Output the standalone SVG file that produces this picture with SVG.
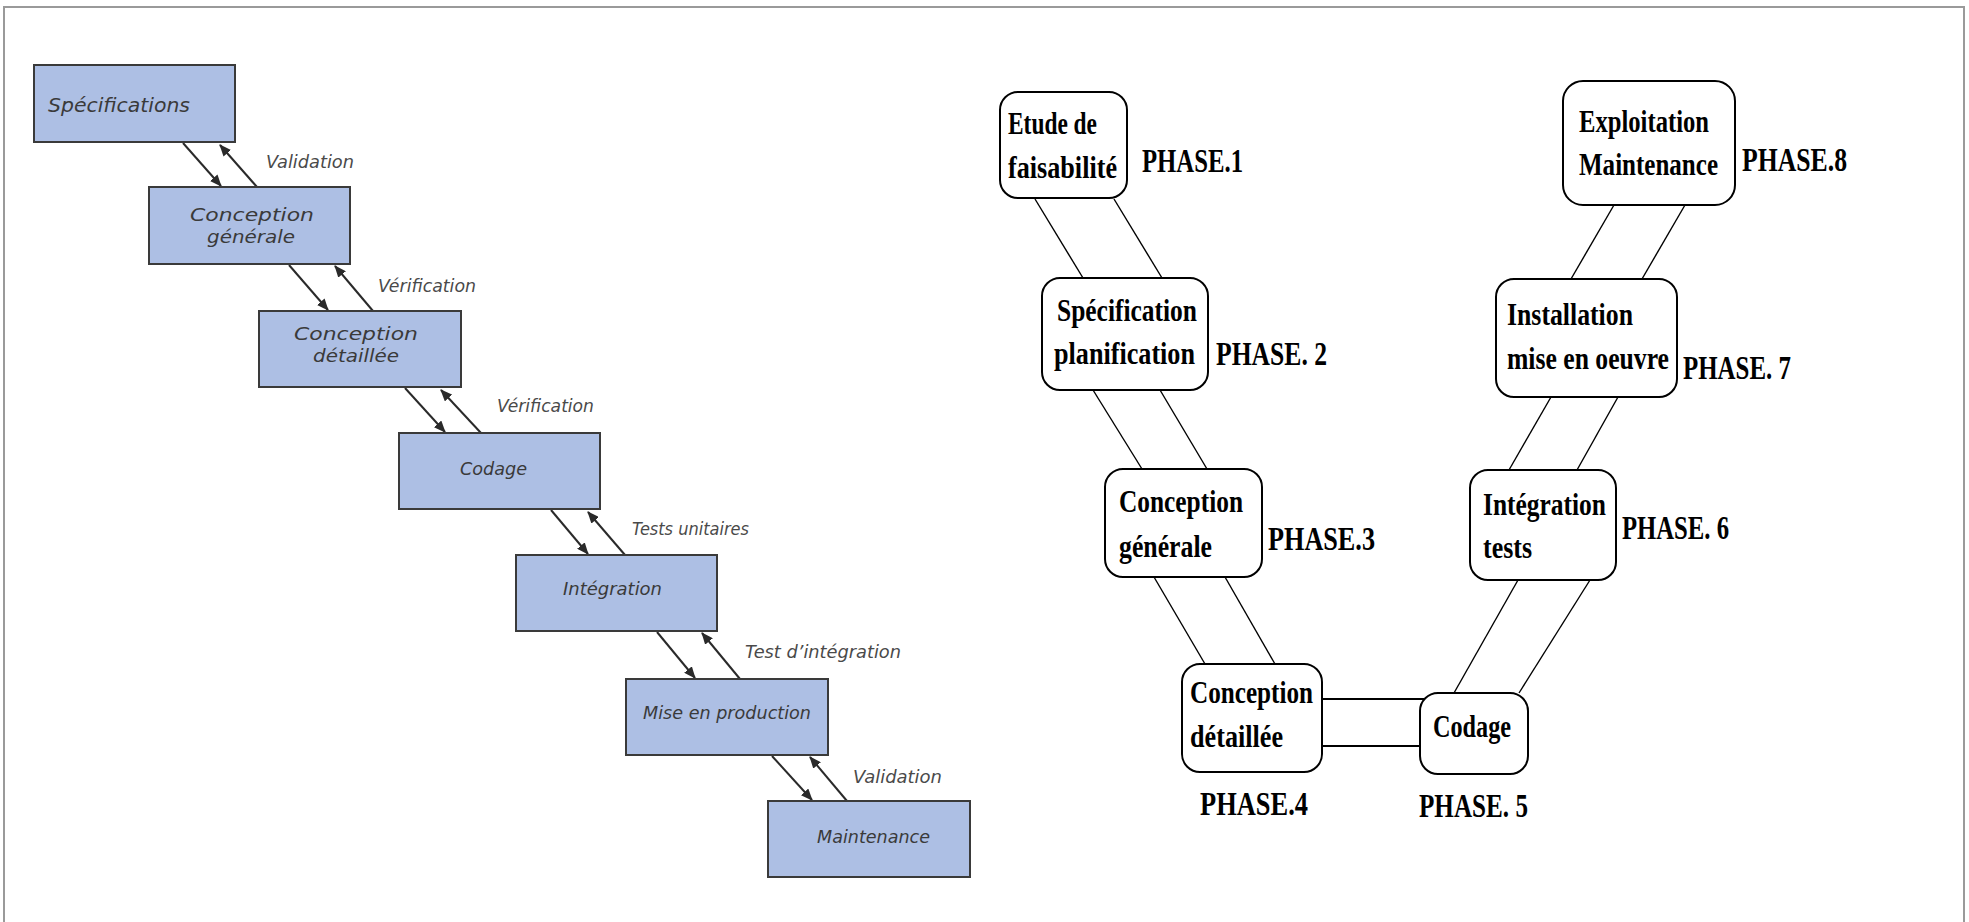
<svg xmlns="http://www.w3.org/2000/svg" width="1969" height="922" viewBox="0 0 1969 922">
<style>
.frame{fill:none;stroke:#9a9a9a;stroke-width:2}
.lbox{fill:#adbfe4;stroke:#3a3a3a;stroke-width:2}
.ltxt{font-family:"DejaVu Sans","Liberation Sans",sans-serif;font-style:italic;fill:#3a3a3a}
.lab{font-family:"DejaVu Sans","Liberation Sans",sans-serif;font-style:italic;fill:#4a4a4a;font-size:17px}
.arr{stroke:#2a2a2a;stroke-width:2;fill:none;marker-end:url(#ah)}
.rbox{fill:#fff;stroke:#000;stroke-width:2}
.rtxt{font-family:"Liberation Serif","DejaVu Serif",serif;font-weight:bold;font-size:31px;fill:#000}
.ph{font-family:"Liberation Serif","DejaVu Serif",serif;font-weight:bold;font-size:34px;fill:#000}
.cn{stroke:#000;stroke-width:1.4;fill:none}
.cn2{stroke:#000;stroke-width:2.2;fill:none}
</style>
<defs>
<marker id="ah" markerWidth="12" markerHeight="10" refX="11" refY="5" orient="auto" markerUnits="userSpaceOnUse">
<path d="M0,0 L12,5 L0,10 z" fill="#2a2a2a"/>
</marker>
</defs>
<rect width="1969" height="922" fill="#fff"/>
<rect class="frame" x="4" y="7" width="1960" height="940"/>

<g id="connectors">
<line class="arr" x1="183" y1="143" x2="221" y2="186"/>
<line class="arr" x1="257" y1="187" x2="220" y2="145"/>
<line class="arr" x1="289" y1="265" x2="328" y2="310"/>
<line class="arr" x1="373" y1="311" x2="335" y2="266"/>
<line class="arr" x1="405" y1="388" x2="445" y2="432"/>
<line class="arr" x1="481" y1="433" x2="441" y2="390"/>
<line class="arr" x1="551" y1="510" x2="588" y2="554"/>
<line class="arr" x1="625" y1="555" x2="588" y2="512"/>
<line class="arr" x1="657" y1="632" x2="695" y2="678"/>
<line class="arr" x1="740" y1="679" x2="702" y2="633"/>
<line class="arr" x1="772" y1="756" x2="812" y2="800"/>
<line class="arr" x1="847" y1="801" x2="810" y2="757"/>
<text class="lab" x="266" y="168" textLength="88" lengthAdjust="spacingAndGlyphs">Validation</text>
<text class="lab" x="378" y="292" textLength="98" lengthAdjust="spacingAndGlyphs">Vérification</text>
<text class="lab" x="497" y="412" textLength="97" lengthAdjust="spacingAndGlyphs">Vérification</text>
<text class="lab" x="632" y="535" textLength="117" lengthAdjust="spacingAndGlyphs">Tests unitaires</text>
<text class="lab" x="745" y="658" textLength="156" lengthAdjust="spacingAndGlyphs">Test d’intégration</text>
<text class="lab" x="853" y="783" textLength="89" lengthAdjust="spacingAndGlyphs">Validation</text>

<line class="cn" x1="1035" y1="199" x2="1083" y2="278"/>
<line class="cn" x1="1114" y1="199" x2="1162" y2="278"/>
<line class="cn" x1="1093" y1="390" x2="1142" y2="469"/>
<line class="cn" x1="1160" y1="390" x2="1207" y2="469"/>
<line class="cn" x1="1154" y1="577" x2="1205" y2="664"/>
<line class="cn" x1="1225" y1="577" x2="1275" y2="664"/>
<line class="cn2" x1="1322" y1="699" x2="1424" y2="699"/>
<line class="cn2" x1="1322" y1="746" x2="1421" y2="746"/>
<line class="cn" x1="1454" y1="693" x2="1518" y2="580"/>
<line class="cn" x1="1519" y1="693" x2="1590" y2="580"/>
<line class="cn" x1="1509" y1="470" x2="1551" y2="397"/>
<line class="cn" x1="1577" y1="470" x2="1618" y2="397"/>
<line class="cn" x1="1571" y1="279" x2="1614" y2="205"/>
<line class="cn" x1="1642" y1="279" x2="1685" y2="205"/>
</g>

<g id="L1"><rect class="lbox" x="34" y="65" width="201" height="77"/>
<text class="ltxt" x="48" y="112" font-size="20" textLength="142" lengthAdjust="spacingAndGlyphs">Spécifications</text></g>
<g id="L2"><rect class="lbox" x="149" y="187" width="201" height="77"/>
<text class="ltxt" x="190" y="221" font-size="18" textLength="124" lengthAdjust="spacingAndGlyphs">Conception</text>
<text class="ltxt" x="207" y="243" font-size="18" textLength="88" lengthAdjust="spacingAndGlyphs">générale</text></g>
<g id="L3"><rect class="lbox" x="259" y="311" width="202" height="76"/>
<text class="ltxt" x="294" y="340" font-size="18" textLength="124" lengthAdjust="spacingAndGlyphs">Conception</text>
<text class="ltxt" x="313" y="362" font-size="18" textLength="86" lengthAdjust="spacingAndGlyphs">détaillée</text></g>
<g id="L4"><rect class="lbox" x="399" y="433" width="201" height="76"/>
<text class="ltxt" x="460" y="475" font-size="18" textLength="67" lengthAdjust="spacingAndGlyphs">Codage</text></g>
<g id="L5"><rect class="lbox" x="516" y="555" width="201" height="76"/>
<text class="ltxt" x="563" y="595" font-size="18" textLength="99" lengthAdjust="spacingAndGlyphs">Intégration</text></g>
<g id="L6"><rect class="lbox" x="626" y="679" width="202" height="76"/>
<text class="ltxt" x="643" y="719" font-size="18" textLength="168" lengthAdjust="spacingAndGlyphs">Mise en production</text></g>
<g id="L7"><rect class="lbox" x="768" y="801" width="202" height="76"/>
<text class="ltxt" x="817" y="843" font-size="18" textLength="113" lengthAdjust="spacingAndGlyphs">Maintenance</text></g>

<g id="P1"><rect class="rbox" x="1000" y="92" width="127" height="106" rx="18"/>
<text class="rtxt" x="1008" y="134" textLength="89" lengthAdjust="spacingAndGlyphs">Etude de</text>
<text class="rtxt" x="1008" y="178" textLength="109" lengthAdjust="spacingAndGlyphs">faisabilité</text>
<text class="ph" x="1142" y="172" textLength="101" lengthAdjust="spacingAndGlyphs">PHASE.1</text></g>
<g id="P2"><rect class="rbox" x="1042" y="278" width="166" height="112" rx="18"/>
<text class="rtxt" x="1057" y="321" textLength="140" lengthAdjust="spacingAndGlyphs">Spécification</text>
<text class="rtxt" x="1054" y="364" textLength="141" lengthAdjust="spacingAndGlyphs">planification</text>
<text class="ph" x="1216" y="365" textLength="111" lengthAdjust="spacingAndGlyphs">PHASE. 2</text></g>
<g id="P3"><rect class="rbox" x="1105" y="469" width="157" height="108" rx="18"/>
<text class="rtxt" x="1119" y="512" textLength="124" lengthAdjust="spacingAndGlyphs">Conception</text>
<text class="rtxt" x="1119" y="557" textLength="93" lengthAdjust="spacingAndGlyphs">générale</text>
<text class="ph" x="1268" y="550" textLength="107" lengthAdjust="spacingAndGlyphs">PHASE.3</text></g>
<g id="P4"><rect class="rbox" x="1182" y="664" width="140" height="108" rx="18"/>
<text class="rtxt" x="1190" y="703" textLength="123" lengthAdjust="spacingAndGlyphs">Conception</text>
<text class="rtxt" x="1190" y="747" textLength="93" lengthAdjust="spacingAndGlyphs">détaillée</text>
<text class="ph" x="1200" y="815" textLength="108" lengthAdjust="spacingAndGlyphs">PHASE.4</text></g>
<g id="P5"><rect class="rbox" x="1420" y="693" width="108" height="81" rx="18"/>
<text class="rtxt" x="1433" y="737" textLength="78" lengthAdjust="spacingAndGlyphs">Codage</text>
<text class="ph" x="1419" y="817" textLength="109" lengthAdjust="spacingAndGlyphs">PHASE. 5</text></g>
<g id="P6"><rect class="rbox" x="1470" y="470" width="146" height="110" rx="18"/>
<text class="rtxt" x="1483" y="515" textLength="123" lengthAdjust="spacingAndGlyphs">Intégration</text>
<text class="rtxt" x="1483" y="558" textLength="49" lengthAdjust="spacingAndGlyphs">tests</text>
<text class="ph" x="1622" y="539" textLength="107" lengthAdjust="spacingAndGlyphs">PHASE. 6</text></g>
<g id="P7"><rect class="rbox" x="1496" y="279" width="181" height="118" rx="18"/>
<text class="rtxt" x="1507" y="325" textLength="126" lengthAdjust="spacingAndGlyphs">Installation</text>
<text class="rtxt" x="1507" y="369" textLength="162" lengthAdjust="spacingAndGlyphs">mise en oeuvre</text>
<text class="ph" x="1683" y="379" textLength="108" lengthAdjust="spacingAndGlyphs">PHASE. 7</text></g>
<g id="P8"><rect class="rbox" x="1563" y="81" width="172" height="124" rx="20"/>
<text class="rtxt" x="1579" y="132" textLength="130" lengthAdjust="spacingAndGlyphs">Exploitation</text>
<text class="rtxt" x="1579" y="175" textLength="139" lengthAdjust="spacingAndGlyphs">Maintenance</text>
<text class="ph" x="1742" y="171" textLength="105" lengthAdjust="spacingAndGlyphs">PHASE.8</text></g>
</svg>
